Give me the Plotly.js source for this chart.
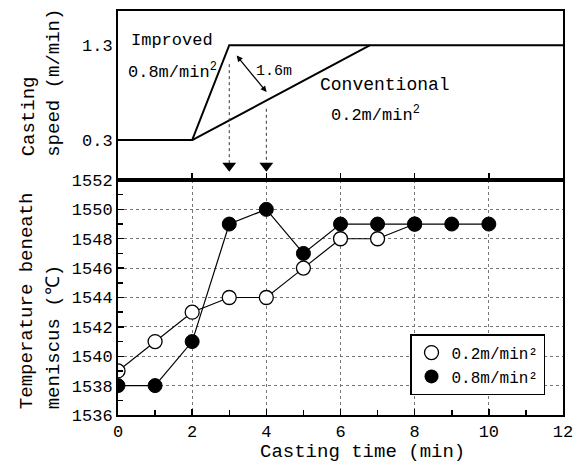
<!DOCTYPE html>
<html><head><meta charset="utf-8">
<script src="https://cdn.plot.ly/plotly-3.0.1.min.js"></script>
<style>body{margin:0;background:#fff}#c{width:584px;height:466px}</style>
</head><body><div id="c"></div>
<script>
// Lower panel: temperature beneath meniscus
const time02 = [0,1,2,3,4,5,6,7,8];
const temp02 = [1539,1541,1543,1544,1544,1546,1548,1548,1549];
const time08 = [0,1,2,3,4,5,6,7,8,9,10];
const temp08 = [1538,1538,1541,1549,1550,1547,1549,1549,1549,1549,1549];
// Upper panel: casting speed schedules
const improvedT = [0,2,3,12];
const improvedV = [0.3,0.3,1.3,1.3];
const conventionalT = [2,6.8];
const conventionalV = [0.3,1.3];
// Dotted arrows marking times
const arrowT = [3,4];
const arrowTop = [1.1,0.63];
const arrowTip = [0.03,0.03];

const F = "Liberation Mono, DejaVu Sans Mono, monospace";
const traces = [
  {x:improvedT,y:improvedV,xaxis:'x2',yaxis:'y2',mode:'lines',line:{color:'#000',width:2},showlegend:false,hoverinfo:'skip'},
  {x:conventionalT,y:conventionalV,xaxis:'x2',yaxis:'y2',mode:'lines',line:{color:'#000',width:2},showlegend:false,hoverinfo:'skip'},
];
arrowT.forEach((t,i)=>{
  traces.push({x:[t,t],y:[arrowTop[i],arrowTip[i]],xaxis:'x2',yaxis:'y2',mode:'lines',line:{color:'#333',width:1,dash:'dot'},showlegend:false,hoverinfo:'skip'});
  traces.push({x:[t],y:[arrowTip[i]],xaxis:'x2',yaxis:'y2',mode:'markers',marker:{symbol:'triangle-down',size:12,color:'#000'},showlegend:false,hoverinfo:'skip'});
});
traces.push(
  {x:time02,y:temp02,mode:'lines+markers',line:{color:'#000',width:1.2},marker:{size:14,color:'#fff',line:{color:'#000',width:1.3}},showlegend:false},
  {x:time08,y:temp08,mode:'lines+markers',line:{color:'#000',width:1.2},marker:{size:14,color:'#000',line:{color:'#000',width:1}},showlegend:false},
  {x:[null],y:[null],mode:'markers',name:'0.2m/min²',marker:{size:14,color:'#fff',line:{color:'#000',width:1.3}}},
  {x:[null],y:[null],mode:'markers',name:'0.8m/min²',marker:{size:14,color:'#000'}}
);

const layout = {
  width:584,height:466,
  margin:{l:118,r:21,t:11,b:51},
  paper_bgcolor:'#fff',plot_bgcolor:'#fff',
  font:{family:F,color:'#000',size:16},
  xaxis:{domain:[0,1],range:[0,12],dtick:2,tick0:0,ticks:'inside',ticklen:6,tickwidth:1.5,tickcolor:'#000',
    showline:true,linewidth:2,linecolor:'#000',mirror:true,zeroline:false,
    showgrid:true,gridcolor:'#777',griddash:'dot',gridwidth:1,
    minor:{dtick:1,ticks:'inside',ticklen:5,tickcolor:'#000',showgrid:false},
    tickfont:{size:17,family:F},anchor:'y'},
  yaxis:{domain:[0,0.5817],range:[1536,1552],dtick:2,tick0:1536,ticks:'inside',ticklen:6,tickwidth:1.5,tickcolor:'#000',
    showline:true,linewidth:2,linecolor:'#000',mirror:true,zeroline:false,
    showgrid:true,gridcolor:'#777',griddash:'dot',gridwidth:1,
    minor:{dtick:1,ticks:'inside',ticklen:5,tickcolor:'#000',showgrid:false},
    tickfont:{size:17,family:F},anchor:'x'},
  xaxis2:{domain:[0,1],range:[0,12],dtick:2,tick0:0,ticks:'inside',ticklen:7,tickwidth:1.5,tickcolor:'#000',
    showticklabels:false,showline:true,linewidth:2,linecolor:'#000',mirror:true,zeroline:false,showgrid:false,anchor:'y2'},
  yaxis2:{domain:[0.5817,1],range:[-0.12,1.66],tickvals:[0.3,1.3],tickformat:'.1f',ticks:'',
    showline:true,linewidth:2,linecolor:'#000',mirror:true,zeroline:false,showgrid:false,
    tickfont:{size:17,family:F},anchor:'x2'},
  legend:{x:0.9596,xanchor:'right',y:0.2,yanchor:'top',bgcolor:'#fff',bordercolor:'#000',borderwidth:1.5,
    font:{size:16,family:F},itemwidth:30,tracegroupgap:0},
  annotations:[
    {xref:'paper',yref:'paper',x:0.5494,y:-0.0916,xanchor:'center',yanchor:'middle',text:'Casting time (min)',showarrow:false,font:{size:19,family:F}},
    {xref:'paper',yref:'paper',x:-0.203,y:0.01,xanchor:'center',yanchor:'bottom',textangle:-90,text:'Temperature beneath',showarrow:false,font:{size:19,family:F}},
    {xref:'paper',yref:'paper',x:-0.143,y:0.01,xanchor:'center',yanchor:'bottom',textangle:-90,text:'meniscus (℃)',showarrow:false,font:{size:19,family:F}},
    {xref:'paper',yref:'paper',x:-0.198,y:0.635,xanchor:'center',yanchor:'bottom',textangle:-90,text:'Casting',showarrow:false,font:{size:19,family:F}},
    {xref:'paper',yref:'paper',x:-0.143,y:0.635,xanchor:'center',yanchor:'bottom',textangle:-90,text:'speed (m/min)',showarrow:false,font:{size:19,family:F}},
    {xref:'x2',yref:'y2',x:0.3,y:1.35,xanchor:'left',yanchor:'middle',text:'Improved',showarrow:false,font:{size:17,family:F}},
    {xref:'x2',yref:'y2',x:0.22,y:1.03,xanchor:'left',yanchor:'middle',text:'0.8m/min<sup>2</sup>',showarrow:false,font:{size:17,family:F}},
    {xref:'x2',yref:'y2',x:5.4,y:0.88,xanchor:'left',yanchor:'middle',text:'Conventional',showarrow:false,font:{size:18,family:F}},
    {xref:'x2',yref:'y2',x:5.7,y:0.58,xanchor:'left',yanchor:'middle',text:'0.2m/min<sup>2</sup>',showarrow:false,font:{size:17,family:F}},
    {xref:'x2',yref:'y2',x:4.22,y:1.02,xanchor:'center',yanchor:'middle',text:'1.6m',showarrow:false,font:{size:15,family:F}},
    {xref:'x2',yref:'y2',axref:'x2',ayref:'y2',x:3.2,y:1.19,ax:4.04,ay:0.79,text:'',showarrow:true,
      arrowhead:2,startarrowhead:2,arrowside:'end+start',arrowsize:1,arrowwidth:1.2,arrowcolor:'#000',standoff:0,startstandoff:0}
  ]
};
Plotly.newPlot('c',traces,layout,{displayModeBar:false,staticPlot:true});
</script></body></html>
